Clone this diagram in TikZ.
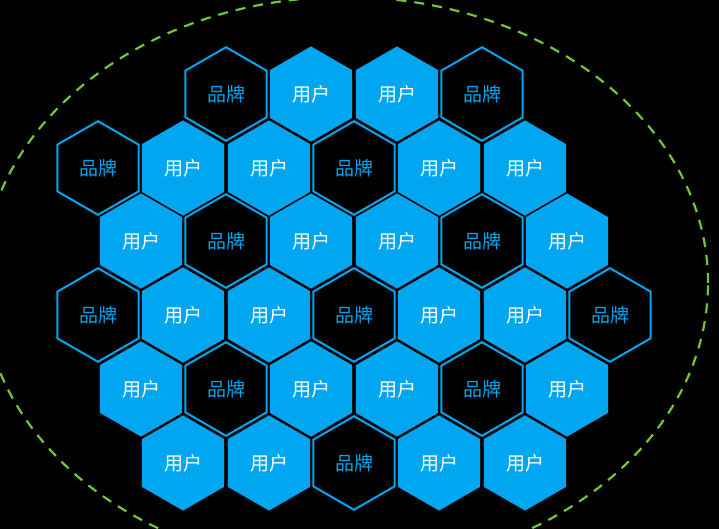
\documentclass[tikz,border=0pt]{standalone}
\usepackage{fontspec}
\newfontfamily\cjk{Noto Sans CJK SC}
\definecolor{hexblue}{RGB}{0,166,240}
\definecolor{ringgreen}{RGB}{112,200,50}
\tikzset{
  userhex/.style={fill=hexblue},
  brandhex/.style={draw=hexblue, line width=2pt, fill=black, line join=miter},
  usertext/.style={text=white, inner sep=0pt, font=\cjk\fontsize{19}{19}\selectfont},
  brandtext/.style={text=hexblue, inner sep=0pt, font=\cjk\fontsize{19}{19}\selectfont},
  ring/.style={draw=ringgreen, line width=2.2pt, dash pattern=on 10pt off 8pt}
}
\begin{document}
\begin{tikzpicture}[x=1pt,y=-1pt]
\fill[black] (0,0) rectangle (719,529);
\useasboundingbox (0,0) rectangle (719,529);
\begin{scope}
\clip (0,0) rectangle (719,529);
\draw[ring] (345,283) ellipse [x radius=363pt, y radius=286pt];
\end{scope}
\foreach \x/\y [count=\i] in {311/94, 397/94,
  183/168, 269/168, 439/168, 525/168,
  141/241, 311/241, 397/241, 567/241,
  183/315, 269/315, 439/315, 525/315,
  141/389, 311/389, 397/389, 567/389,
  183/463, 269/463, 439/463, 525/463}{
  \fill[userhex] (\x,\y) +(30:47.6) -- +(90:47.6) -- +(150:47.6) -- +(210:47.6) -- +(270:47.6) -- +(330:47.6) -- cycle;
  \node[usertext] (u\i) at (\x,\y) {用户};
}
\foreach \x/\y [count=\i] in {226/94, 482/94,
  98/168, 354/168,
  226/241, 482/241,
  98/315, 354/315, 610/315,
  226/389, 482/389,
  354/463}{
  \draw[brandhex] (\x,\y) +(30:46.8) -- +(90:46.8) -- +(150:46.8) -- +(210:46.8) -- +(270:46.8) -- +(330:46.8) -- cycle;
  \node[brandtext] (b\i) at (\x,\y) {品牌};
}
\end{tikzpicture}
\end{document}
